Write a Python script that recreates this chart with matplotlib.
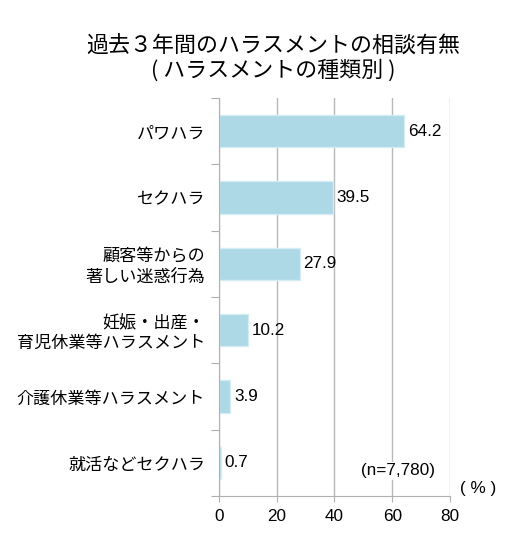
import numpy as np
import matplotlib.pyplot as plt

plt.rcParams['font.family'] = ['Noto Sans CJK JP', 'DejaVu Sans']

## categories (top to bottom) and shares in %
categories = ["パワハラ", "セクハラ", "顧客等からの\n著しい迷惑行為",
              "妊娠・出産・\n育児休業等ハラスメント", "介護休業等ハラスメント",
              "就活などセクハラ"]
values = [64.2, 39.5, 27.9, 10.2, 3.9, 0.7]
x_ticks = [0, 20, 40, 60, 80]

fig = plt.figure(figsize=(5.12, 5.49), dpi=100)
ax = fig.add_axes([0.4277, 0.0965, 0.4512, 0.725])

pos = np.arange(len(categories))
ax.barh(pos, values, height=0.49, color="#add8e6", edgecolor="#d4ecf3",
        linewidth=1, zorder=3)
for p, v in zip(pos, values):
    ax.text(v + 1.3, p, f"{v:.1f}", va="center", ha="left", fontsize=12.3,
            family="Liberation Sans", zorder=4)

ax.set_ylim(len(categories) - 0.5, -0.5)
ax.set_xlim(0, 80)
ax.set_xticks(x_ticks)
ax.set_xticklabels([str(t) for t in x_ticks], fontsize=12.3, family="Liberation Sans")

# y ticks at category boundaries, labels at centres
ax.set_yticks(np.arange(-0.5, len(categories), 1.0))
ax.set_yticklabels([])
ax.set_yticks(pos, minor=True)
ax.set_yticklabels(categories, minor=True, fontsize=12.3, ha="right",
                   linespacing=1.15)
ax.tick_params(axis="y", which="minor", length=0, pad=10)
ax.tick_params(axis="y", which="major", length=6, color="#b0b0b0")
ax.tick_params(axis="x", length=4, color="#b0b0b0", pad=5)

ax.grid(axis="x", color="#b8b8b8", linewidth=1, zorder=0)
for s in ["top", "right"]:
    ax.spines[s].set_visible(False)
for s in ["left", "bottom"]:
    ax.spines[s].set_color("#b0b0b0")
    ax.spines[s].set_zorder(5)

ax.text(62, 5.12, "(n=7,780)", ha="center", va="center", fontsize=12.3,
        family="Liberation Sans", zorder=4,
        bbox=dict(facecolor="white", edgecolor="none", pad=1))
fig.text(0.933, 0.111, "( % )", ha="center", va="center", fontsize=12.3,
         family="Liberation Sans")

fig.text(0.533, 0.8925, "過去３年間のハラスメントの相談有無\n( ハラスメントの種類別 )",
         ha="center", va="center", fontsize=15.8, linespacing=1.1)

fig.savefig("out.png", dpi=100)
